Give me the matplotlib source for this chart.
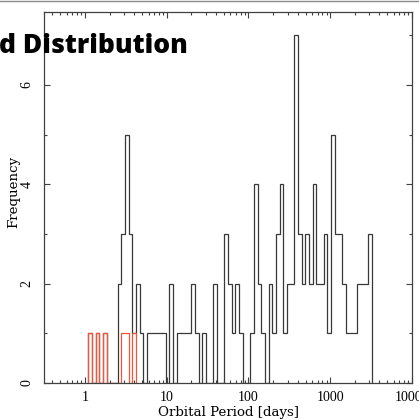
import numpy as np
import matplotlib
matplotlib.use("Agg")
import matplotlib.pyplot as plt
from matplotlib.lines import Line2D
from matplotlib.ticker import LogLocator, NullFormatter, MultipleLocator

# Histogram of log10(orbital period), bins of 0.045 dex starting at log P = 0.04
log_p_start = 0.0404
bin_dex = 0.045

# Counts per bin, all planets
all_counts = [1, 0, 1, 0, 1, 0, 0, 0, 2, 3, 5, 3, 1,
              2, 1, 0, 1, 1, 1, 1, 1, 0, 2, 0, 1, 1, 1, 1,
              2, 1, 0, 1, 0, 0, 2, 0, 0, 3, 2, 1, 2, 1,
              0, 0, 1, 4, 2, 1, 0, 2, 1, 3, 4, 1, 2, 2, 7,
              3, 2, 3, 2, 4, 2, 2, 3, 1, 5, 3, 3, 2, 1, 1, 1, 2, 2, 2, 3]
# Counts per bin for the short-period subset (first 13 bins)
short_counts = [1, 0, 1, 0, 1, 0, 0, 0, 0, 1, 1, 0, 1]

x_ticks = [1, 10, 100, 1000, 10000]
x_tick_labels = ["1", "10", "100", "1000", "10000"]
y_ticks = [0, 2, 4, 6]

edges = 10 ** (log_p_start + bin_dex * np.arange(len(all_counts) + 1))

fig = plt.figure(figsize=(4.19, 4.19), dpi=100)
ax = fig.add_axes([44 / 419, 1 - 383 / 419, 368 / 419, 370.5 / 419])

ax.stairs(all_counts, edges, color="#383838", lw=0.9)
ax.stairs(short_counts, edges[:len(short_counts) + 1], color="#f4553a", lw=0.9)

ax.set_xscale("log")
ax.set_xlim(10 ** -0.5015, 1e4)
ax.set_ylim(0, 7.46)

serif = "DejaVu Serif"
tick_font = "Liberation Serif"
ax.set_xticks(x_ticks, labels=x_tick_labels)
ax.xaxis.set_minor_locator(LogLocator(base=10, subs=np.arange(2, 10)))
ax.xaxis.set_minor_formatter(NullFormatter())
ax.set_yticks(y_ticks)
ax.yaxis.set_minor_locator(MultipleLocator(1))

ax.tick_params(which="both", direction="in", top=True, right=True, width=0.8,
               color="#404040")
ax.tick_params(which="major", length=4.5)
ax.tick_params(which="minor", length=2.2)
ax.tick_params(axis="x", which="major", pad=5.5)
ax.tick_params(axis="y", which="major", pad=7.5)
for lab in ax.get_xticklabels():
    lab.set_fontfamily(tick_font)
    lab.set_fontsize(10)
for lab in ax.get_yticklabels():
    lab.set_fontfamily(tick_font)
    lab.set_fontsize(10)
    lab.set_rotation(90)
    lab.set_verticalalignment("center")

for sp in ax.spines.values():
    sp.set_linewidth(0.9)
    sp.set_color("#404040")

ax.set_xlabel("Orbital Period [days]", fontfamily=serif, fontsize=9.6)
ax.set_ylabel("Frequency", fontfamily=serif, fontsize=9.6)
ax.xaxis.set_label_coords(0.5, -0.062)
ax.yaxis.set_label_coords(-0.065, 0.515)

fig.text(-0.002, 1 - 53 / 419, "d Distribution", fontfamily="Open Sans",
         fontweight="heavy", fontsize=19, ha="left", va="baseline")

# thin rule along the top edge
fig.add_artist(Line2D([0, 1], [1 - 0.6 / 419, 1 - 0.6 / 419],
                      transform=fig.transFigure, color="#8a8a8a", lw=1.0))

fig.savefig("out.png", dpi=100)
